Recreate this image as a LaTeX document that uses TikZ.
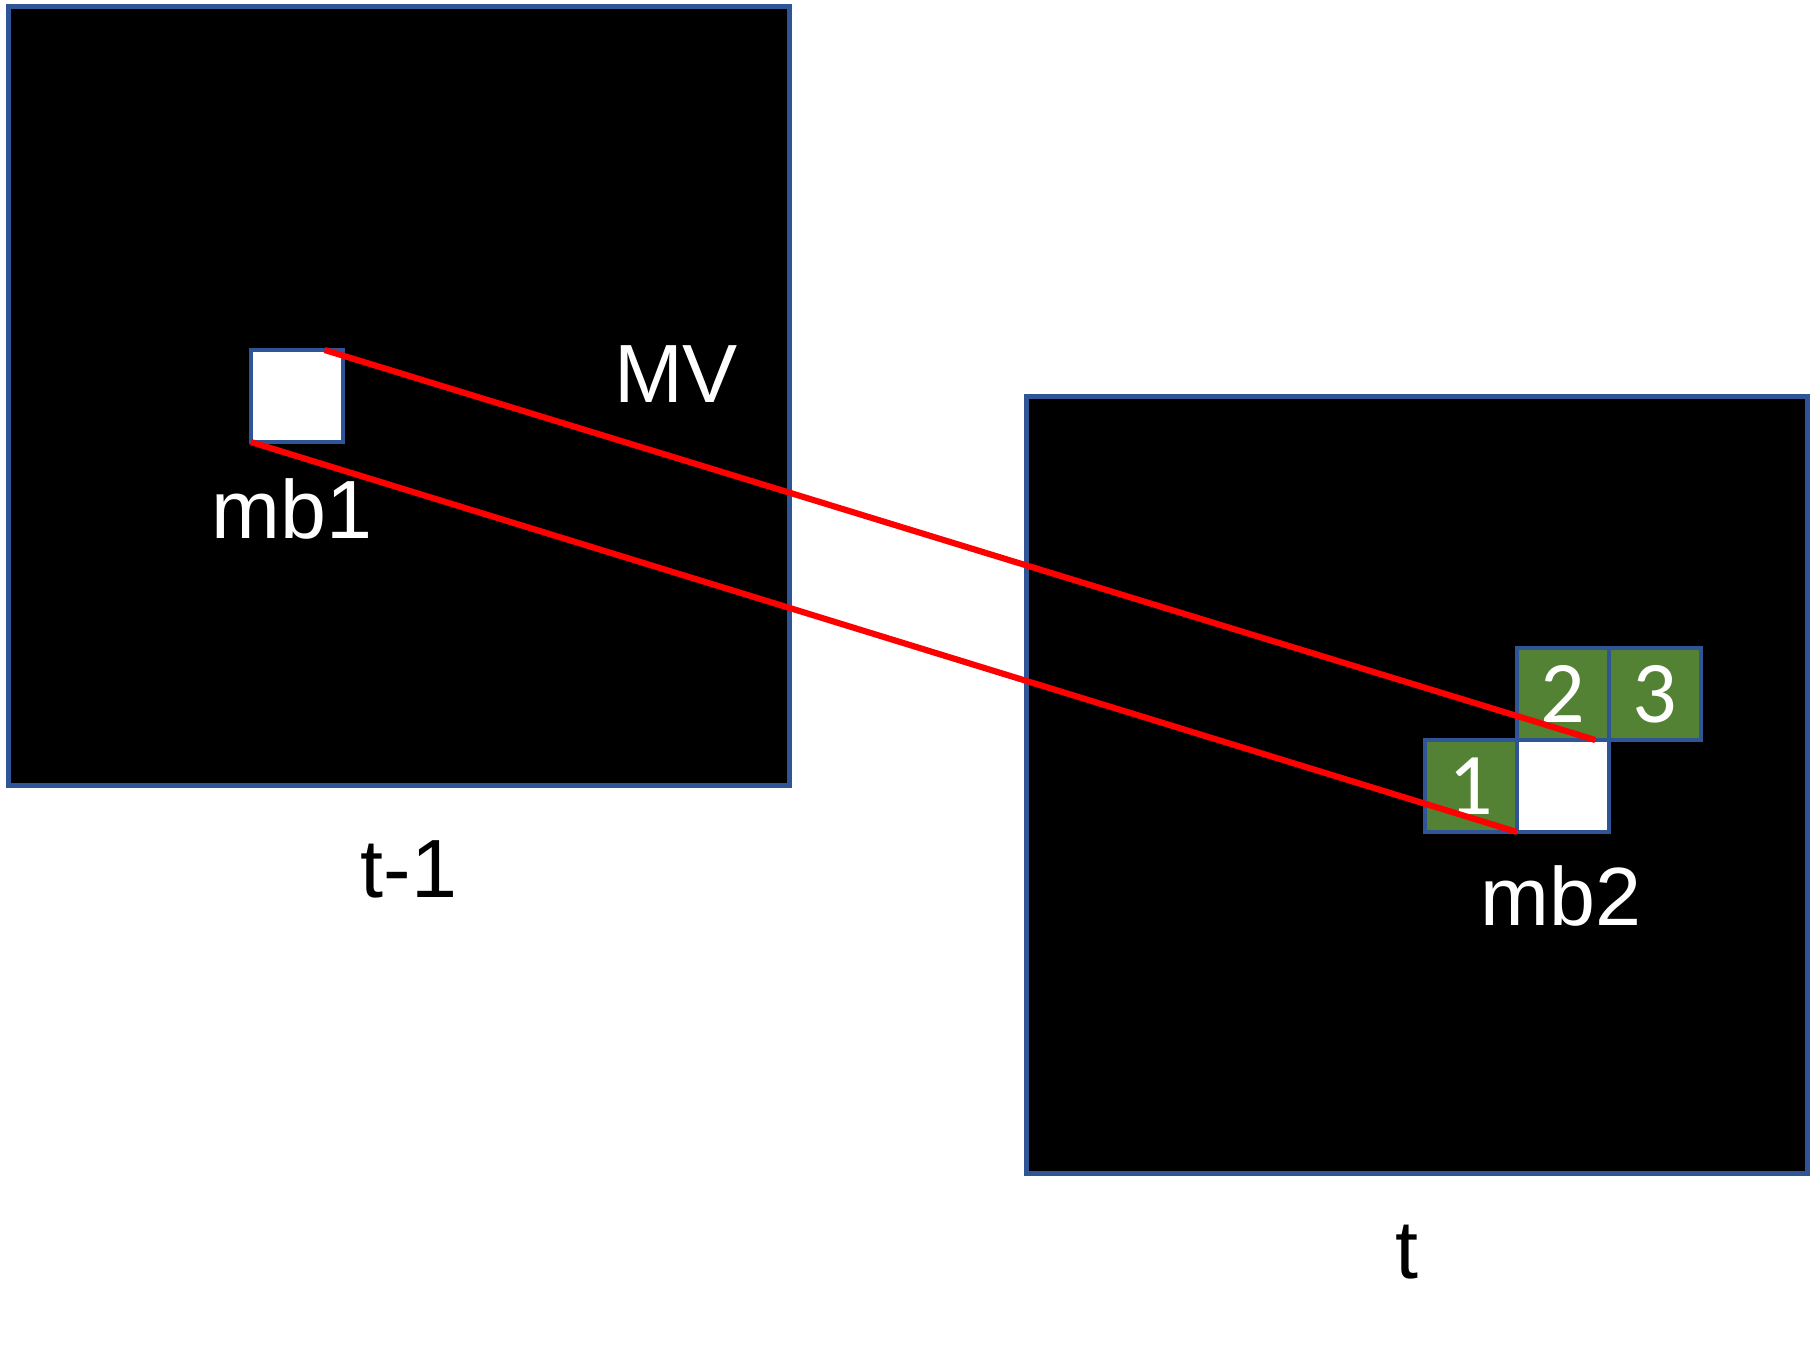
\documentclass[tikz,border=0pt]{standalone}
\usepackage{fontspec}
\setmainfont{Liberation Sans}
\newfontfamily\cellfont{Carlito}
\usepackage{tikz}
\usetikzlibrary{positioning, calc}
\definecolor{frameblue}{RGB}{47,85,151}
\definecolor{cellgreen}{RGB}{84,130,53}
\tikzstyle{mvline} = [draw, red, line width=1.75pt]
\tikzstyle{frame} = [rectangle, draw=frameblue, line width=1.4pt, fill=black, outer sep=0pt, minimum width=7.8cm, minimum height=7.78cm]
\tikzstyle{block} = [rectangle, draw=frameblue, line width=1.2pt, fill=white, outer sep=0pt, minimum size=0.92cm, inner sep=0pt]
\tikzstyle{cand} = [block, fill=cellgreen, text=white, font=\cellfont\fontsize{25}{25}\selectfont]
\tikzstyle{label} = [anchor=base, inner sep=0pt, font=\fontsize{23.5}{28}\selectfont]

\begin{document}
\begin{tikzpicture}[x=0.01cm, y=-0.01cm, node distance=0pt]
        \useasboundingbox [fill=white] (0,0) rectangle (1815,1347);

        \node [frame] (prev) at (399,396) {};
        \node [frame, minimum width=7.81cm, minimum height=7.76cm] (curr) at (1417,785) {};

        \node [block] (mb1) at (297,396) {};
        \node [block] (mb2) at (1563,786) {};
        \node [cand, left=of mb2] (c1) {1};
        \node [cand, above=of mb2] (c2) {2};
        \node [cand, right=of c2] (c3) {3};

        \node [label, text=white] (mv) at (676,402) {MV};
        \node [label, text=white] (mb1lbl) at (292,538) {mb1};
        \node [label, text=white] (mb2lbl) at (1561,925) {mb2};
        \node [label] (prevlbl) at (409,897) {t-1};
        \node [label] (currlbl) at (1407,1278) {t};

        \coordinate (top1) at ($(mb1.north west)!0.8!(mb1.north east)$);
        \coordinate (top2) at ($(mb2.north west)!0.85!(mb2.north east)$);
        \path [mvline] (top1) -- (top2);
        \path [mvline] (mb1.south west) -- (mb2.south west);
    \end{tikzpicture}
\end{document}
